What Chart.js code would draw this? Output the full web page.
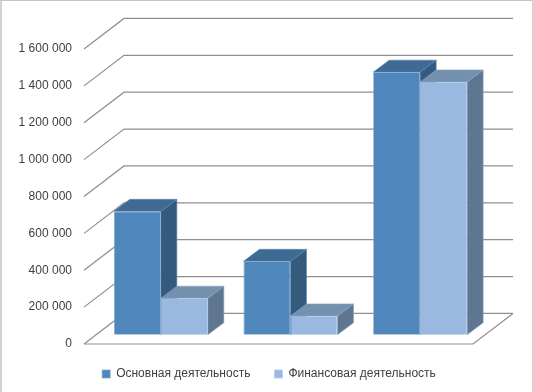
<!DOCTYPE html>
<html>
<head>
<meta charset="utf-8">
<style>
html,body{margin:0;padding:0;background:#fff;overflow:hidden}
#wrap{position:relative;width:533px;height:392px}
#frame{position:absolute;left:0;top:0;width:533px;height:392px;box-sizing:border-box;border-style:solid;border-color:#c4c4c4 #d2d2d2 transparent #d2d2d2;border-width:1px 1px 0 2px;pointer-events:none}
canvas{display:block}
</style>
<script src="https://cdn.jsdelivr.net/npm/chart.js@4/dist/chart.umd.min.js"></script>
</head>
<body>
<div id="wrap"><canvas id="c" width="533" height="392"></canvas><div id="frame"></div></div>
<script>
const categories = ['2008', '2009', '2010'];
const mainActivity = [669000, 398000, 1424000];
const financeActivity = [198000, 102000, 1371000];
const seriesNames = ['Основная деятельность', 'Финансовая деятельность'];
const tickLabels = ['0', '200 000', '400 000', '600 000', '800 000', '1 000 000', '1 200 000', '1 400 000', '1 600 000'];

const WALL = {dx: 40, dy: -30.6};
const BAR_OFFSET = {dx: 12, dy: -9.3};
const BAR_DEPTH = {dx: 16, dy: -12};
const SHADES = [
  {top: '#3f6a94', side: '#345a7e', edge: '#5c86ad'},
  {top: '#7390af', side: '#5f7690', edge: '#89a3c0'}
];

function poly(ctx, pts, fill, edge) {
  ctx.beginPath();
  pts.forEach((p, i) => i ? ctx.lineTo(p[0], p[1]) : ctx.moveTo(p[0], p[1]));
  ctx.closePath();
  ctx.fillStyle = fill;
  ctx.fill();
  ctx.strokeStyle = edge;
  ctx.lineWidth = 0.6;
  ctx.stroke();
}

function drawFaces(ctx, meta, s) {
  meta.data.forEach(b => {
    const l = b.x - b.width / 2, r = b.x + b.width / 2;
    const ddx = BAR_DEPTH.dx, ddy = BAR_DEPTH.dy;
    poly(ctx, [[r, b.base], [r + ddx, b.base + ddy], [r + ddx, b.y + ddy], [r, b.y]], s.side, s.edge);
    poly(ctx, [[l, b.y], [l + ddx, b.y + ddy], [r + ddx, b.y + ddy], [r, b.y]], s.top, s.edge);
  });
}

const depthPlugin = {
  id: 'depth',
  beforeDatasetsDraw(chart) {
    const {ctx, chartArea: a, scales: {y}} = chart;
    ctx.save();
    ctx.strokeStyle = '#8f8f8f';
    ctx.lineWidth = 1.2;
    y.ticks.forEach(t => {
      const py = y.getPixelForValue(t.value);
      ctx.beginPath();
      ctx.moveTo(a.left, py);
      ctx.lineTo(a.left + WALL.dx, py + WALL.dy);
      ctx.lineTo(a.right + WALL.dx, py + WALL.dy);
      ctx.stroke();
    });
    const py0 = y.getPixelForValue(0);
    ctx.beginPath();
    ctx.moveTo(a.left, py0);
    ctx.lineTo(a.right, py0);
    ctx.lineTo(a.right + WALL.dx, py0 + WALL.dy);
    ctx.stroke();
    ctx.restore();
  },
  // Chart.js paints the last dataset first; the front series must go on top here,
  // so the second dataset is held back and painted after the first one.
  beforeDatasetDraw(chart, args) {
    if (args.index === 1) return false;
    const {ctx} = chart;
    ctx.save();
    ctx.translate(BAR_OFFSET.dx, BAR_OFFSET.dy);
    drawFaces(ctx, args.meta, SHADES[0]);
  },
  afterDatasetDraw(chart) {
    chart.ctx.restore();
  },
  afterDatasetsDraw(chart) {
    const {ctx} = chart;
    const meta = chart.getDatasetMeta(1);
    ctx.save();
    ctx.translate(BAR_OFFSET.dx, BAR_OFFSET.dy);
    drawFaces(ctx, meta, SHADES[1]);
    meta.controller.draw();
    ctx.restore();
  }
};

new Chart(document.getElementById('c'), {
  type: 'bar',
  data: {
    labels: categories,
    datasets: [
      {label: seriesNames[0], data: mainActivity, backgroundColor: '#4f87bc', borderColor: '#7ba5cd', borderWidth: 0.8},
      {label: seriesNames[1], data: financeActivity, backgroundColor: '#99b9e1', borderColor: '#b6cdea', borderWidth: 0.8}
    ]
  },
  options: {
    responsive: false,
    animation: false,
    devicePixelRatio: 1,
    layout: {padding: {left: 5, right: 0, top: 49, bottom: 2}},
    datasets: {bar: {categoryPercentage: 0.725, barPercentage: 1}},
    plugins: {
      tooltip: {enabled: false},
      legend: {
        position: 'bottom',
        labels: {
          boxWidth: 8, boxHeight: 8, padding: 24,
          color: '#404040',
          font: {family: '"Liberation Sans", Arial, sans-serif', size: 12}
        }
      }
    },
    scales: {
      x: {display: false, stacked: false},
      y: {
        min: 0, max: 1600000,
        grid: {display: false},
        border: {display: false},
        afterFit(s) { s.width = 79; },
        ticks: {
          stepSize: 200000,
          padding: 4,
          color: '#404040',
          font: {family: '"Liberation Sans", Arial, sans-serif', size: 12},
          callback: (v, i) => tickLabels[i]
        }
      },
      yRight: {
        position: 'right',
        min: 0, max: 1600000,
        grid: {display: false},
        border: {display: false},
        ticks: {display: false},
        afterFit(s) { s.width = 60; }
      }
    }
  },
  plugins: [depthPlugin]
});
</script>
</body>
</html>
